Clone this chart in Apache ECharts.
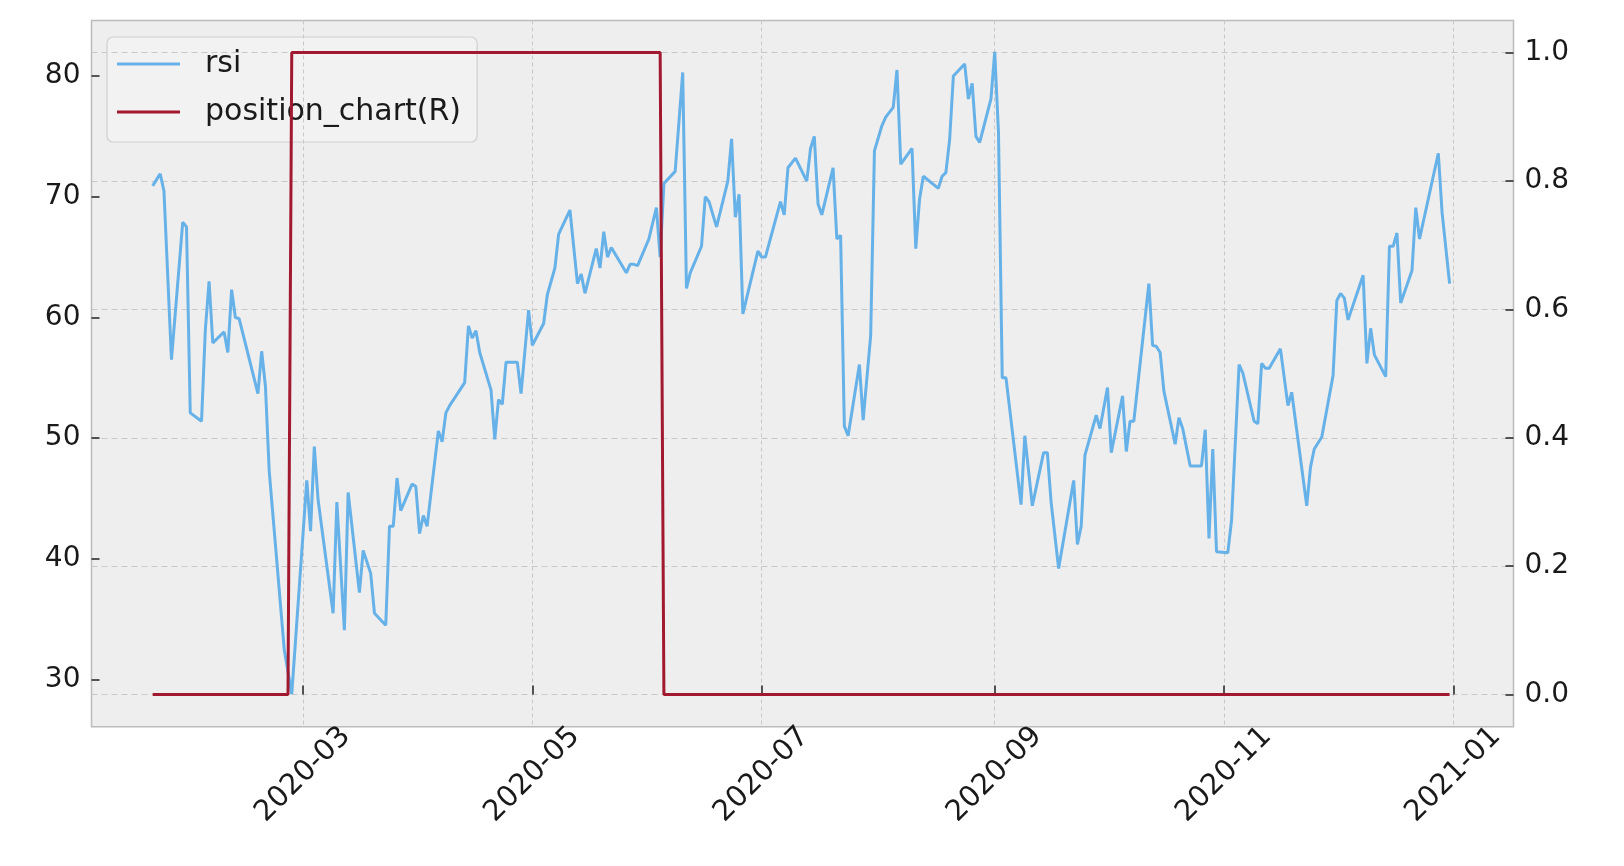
<!DOCTYPE html>
<html>
<head>
<meta charset="utf-8">
<script src="https://cdn.jsdelivr.net/npm/echarts@6/dist/echarts.min.js"></script>
<style>
html,body{margin:0;padding:0;background:#fff;}
#chart{width:1624px;height:866px;}
</style>
</head>
<body>
<div id="chart"></div>
<script>
// ---- data ----
const rsiDates = [
'2020-01-21','2020-01-23','2020-01-24','2020-01-26','2020-01-29','2020-01-30','2020-01-31','2020-02-03','2020-02-04','2020-02-05',
'2020-02-06','2020-02-09','2020-02-10','2020-02-11','2020-02-12','2020-02-13','2020-02-18','2020-02-19','2020-02-20','2020-02-21',
'2020-02-25','2020-02-27','2020-03-02','2020-03-03','2020-03-04','2020-03-05','2020-03-09','2020-03-10','2020-03-12','2020-03-13',
'2020-03-16','2020-03-17','2020-03-19','2020-03-20','2020-03-23','2020-03-24','2020-03-25','2020-03-26','2020-03-27','2020-03-30',
'2020-03-31','2020-04-01','2020-04-02','2020-04-03','2020-04-06','2020-04-07','2020-04-08','2020-04-09','2020-04-13','2020-04-14',
'2020-04-15','2020-04-16','2020-04-17','2020-04-20','2020-04-21','2020-04-22','2020-04-23','2020-04-24','2020-04-27','2020-04-28',
'2020-04-30','2020-05-01','2020-05-04','2020-05-05','2020-05-07','2020-05-08','2020-05-11','2020-05-13','2020-05-14','2020-05-15',
'2020-05-18','2020-05-19','2020-05-20','2020-05-21','2020-05-22','2020-05-26','2020-05-27','2020-05-28','2020-05-29','2020-06-01',
'2020-06-03','2020-06-04','2020-06-05','2020-06-08','2020-06-10','2020-06-11','2020-06-12','2020-06-15','2020-06-16','2020-06-17',
'2020-06-19','2020-06-22','2020-06-23','2020-06-24','2020-06-25','2020-06-26','2020-06-30','2020-07-01','2020-07-02','2020-07-06',
'2020-07-07','2020-07-08','2020-07-10','2020-07-13','2020-07-14','2020-07-15','2020-07-16','2020-07-17','2020-07-20','2020-07-21',
'2020-07-22','2020-07-23','2020-07-24','2020-07-27','2020-07-28','2020-07-30','2020-07-31','2020-08-02','2020-08-03','2020-08-05',
'2020-08-06','2020-08-07','2020-08-10','2020-08-11','2020-08-12','2020-08-13','2020-08-17','2020-08-18','2020-08-19','2020-08-20',
'2020-08-21','2020-08-24','2020-08-25','2020-08-26','2020-08-27','2020-08-28','2020-08-31','2020-09-01','2020-09-02','2020-09-03',
'2020-09-04','2020-09-08','2020-09-09','2020-09-11','2020-09-14','2020-09-15','2020-09-16','2020-09-18','2020-09-22','2020-09-23',
'2020-09-24','2020-09-25','2020-09-28','2020-09-29','2020-10-01','2020-10-02','2020-10-05','2020-10-06','2020-10-07','2020-10-08',
'2020-10-12','2020-10-13','2020-10-14','2020-10-15','2020-10-16','2020-10-19','2020-10-20','2020-10-21','2020-10-23','2020-10-26',
'2020-10-27','2020-10-28','2020-10-29','2020-10-30','2020-11-02','2020-11-03','2020-11-05','2020-11-06','2020-11-09','2020-11-10',
'2020-11-11','2020-11-12','2020-11-13','2020-11-16','2020-11-18','2020-11-19','2020-11-23','2020-11-24','2020-11-25','2020-11-27',
'2020-11-30','2020-12-01','2020-12-02','2020-12-03','2020-12-04','2020-12-08','2020-12-09','2020-12-10','2020-12-11','2020-12-14',
'2020-12-15','2020-12-16','2020-12-17','2020-12-18','2020-12-21','2020-12-22','2020-12-23','2020-12-28','2020-12-29','2020-12-31'
];
const rsiValues = [
70.9,71.9,70.5,56.5,67.9,67.5,52.1,51.4,58.9,63.0,
57.9,58.8,57.1,62.3,60.0,59.9,53.7,57.2,54.3,47.3,
32.5,28.8,46.5,42.3,49.3,44.9,35.5,44.7,34.1,45.5,
37.2,40.7,38.8,35.5,34.5,42.7,42.7,46.7,44.0,46.2,
46.0,42.1,43.6,42.7,50.6,49.7,52.1,52.7,54.6,59.3,
58.3,58.9,57.1,54.0,49.9,53.2,52.8,56.3,56.3,53.7,
60.6,57.7,59.5,61.9,64.1,66.9,68.9,62.8,63.6,62.0,
65.7,64.1,67.1,65.0,65.8,63.7,64.4,64.4,64.3,66.5,
69.1,65.0,71.1,72.1,80.3,62.4,63.7,65.9,70.0,69.6,
67.5,71.3,74.8,68.3,70.2,60.3,65.5,65.0,65.0,69.6,
68.5,72.4,73.2,71.3,74.0,75.0,69.4,68.5,72.4,66.5,
66.8,51.0,50.2,56.1,51.5,58.5,73.8,75.9,76.6,77.4,
80.5,72.7,74.0,65.7,69.8,71.7,70.7,71.7,72.0,74.7,
80.0,81.0,78.1,79.4,75.0,74.5,78.1,82.0,75.3,55.0,
55.0,44.5,50.2,44.4,48.8,48.8,44.7,39.2,46.5,41.2,
42.7,48.6,51.9,50.8,54.2,48.8,53.5,48.9,51.4,51.4,
62.8,57.7,57.6,57.1,53.9,49.5,51.7,50.8,47.7,47.7,
50.7,41.7,49.1,40.6,40.5,43.2,56.1,55.4,51.4,51.2,
56.2,55.8,55.8,57.4,52.7,53.8,44.4,47.6,49.1,50.1,
55.2,61.4,62.0,61.6,59.8,63.5,56.2,59.1,56.9,55.1,
65.9,65.9,67.0,61.2,63.9,69.1,66.5,73.6,68.7,62.8
];
const posDates = ['2020-01-21','2020-02-26','2020-02-27','2020-06-04','2020-06-05','2020-12-31'];
const posValues = [0,0,1,1,0,0];

const xTickDates = ['2020-03-01','2020-05-01','2020-07-01','2020-09-01','2020-11-01','2021-01-01'];
const leftTicks = [30,40,50,60,70,80];
const rightTicks = [0,0.2,0.4,0.6,0.8,1.0];
const seriesNames = ['rsi','position_chart(R)'];

// ---- chart ----
function toTs(s){ const p = s.split('-').map(Number); return new Date(p[0], p[1]-1, p[2]).getTime(); }
const xMin = new Date(2020,0,4,17,31).getTime();
const xMax = new Date(2021,0,17,0,0).getTime();
const FONT = 'DejaVu Sans';
const TXT = '#1a1a1a';

const chart = echarts.init(document.getElementById('chart'), null, {renderer:'canvas'});
chart.setOption({
  animation: false,
  backgroundColor: '#ffffff',
  textStyle: {fontFamily: FONT},
  grid: {
    left: 91.5, right: 110.5, top: 20.5, bottom: 139.3,
    show: true, backgroundColor: '#eeeeee', borderColor: '#bcbcbc', borderWidth: 1.5, z: 0
  },
  legend: {
    orient: 'vertical', left: 107, top: 37,
    padding: [10, 16, 13, 10],
    itemGap: 14,
    itemWidth: 63, itemHeight: 3,
    icon: 'rect',
    backgroundColor: 'rgba(242,242,242,0.8)',
    borderColor: '#d0d0d0', borderWidth: 1.2, borderRadius: 6,
    textStyle: {fontFamily: FONT, fontSize: 30, color: TXT, lineHeight: 34, padding: [0,0,0,20]},
    data: seriesNames,
    z: 1
  },
  xAxis: {
    type: 'value', min: xMin, max: xMax, z: 2,
    axisLine: {show: false},
    axisTick: {show: true, inside: true, length: 9, lineStyle: {color: '#222', width: 1.5},
               customValues: xTickDates.map(toTs)},
    axisLabel: {
      customValues: xTickDates.map(toTs),
      rotate: 45, align: 'center', verticalAlign: 'middle', margin: 48,
      fontFamily: FONT, fontSize: 29, color: TXT,
      formatter: function(v){ const d = new Date(v); return d.getFullYear() + '-' + String(d.getMonth()+1).padStart(2,'0'); }
    },
    splitLine: {show: true, lineStyle: {color: '#c8c8c8', width: 1, type: [4,3]}}
  },
  yAxis: [
    {
      type: 'value', position: 'left', min: 26.1, max: 84.6, z: 2,
      axisLine: {show: false},
      axisTick: {show: true, inside: true, length: 8, lineStyle: {color: '#222', width: 1.5}, customValues: leftTicks},
      axisLabel: {customValues: leftTicks, margin: 11, fontFamily: FONT, fontSize: 28, color: TXT},
      splitLine: {show: false}
    },
    {
      type: 'value', position: 'right', min: -0.05, max: 1.05, z: 2,
      axisLine: {show: false},
      axisTick: {show: true, inside: true, length: 8, lineStyle: {color: '#222', width: 1.5}, customValues: rightTicks},
      axisLabel: {customValues: rightTicks, margin: 11, fontFamily: FONT, fontSize: 28, color: TXT,
                  formatter: function(v){ return v.toFixed(1); }},
      splitLine: {show: true, lineStyle: {color: '#c8c8c8', width: 1, type: [6,4]}}
    }
  ],
  series: [
    {
      name: seriesNames[0], type: 'line', xAxisIndex: 0, yAxisIndex: 0,
      showSymbol: false, symbol: 'none',
      lineStyle: {color: '#66B1E8', width: 3},
      itemStyle: {color: '#66B1E8'},
      z: 3,
      data: rsiDates.map(function(d,i){ return [toTs(d), rsiValues[i]]; })
    },
    {
      name: seriesNames[1], type: 'line', xAxisIndex: 0, yAxisIndex: 1,
      showSymbol: false, symbol: 'none',
      lineStyle: {color: '#A2182F', width: 3},
      itemStyle: {color: '#A2182F'},
      z: 4,
      data: posDates.map(function(d,i){ return [toTs(d), posValues[i]]; })
    }
  ]
});
</script>
</body>
</html>
